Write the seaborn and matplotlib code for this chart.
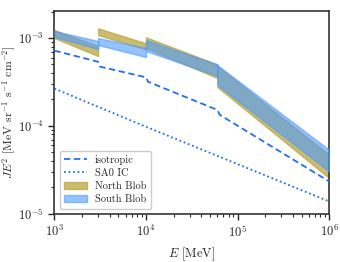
import numpy as np
import pandas as pd
import seaborn as sns
import matplotlib.pyplot as plt

# energies in MeV, values in log10(MeV sr^-1 s^-1 cm^-2)
iso_E = [1e3, 3e3, 3.15e3, 1e4, 1.05e4, 6e4, 6.4e4, 1e6]
iso_logJ = [-3.144, -3.27, -3.326, -3.447, -3.497, -3.818, -3.875, -4.633]

ic_E = [1e3, 1e4, 1e5, 1e6]
ic_logJ = [-3.575, -4.01, -4.435, -4.86]

# blob bands: per segment (E_lo, E_hi), lower/upper log10 at each end
seg_E = [(1e3, 3e3), (3e3, 1e4), (1e4, 6e4), (6e4, 1e6)]
north_lo = [(-3.0, -3.205), (-2.966, -3.128), (-3.114, -3.455), (-3.557, -4.594)]
north_hi = [(-2.909, -3.091), (-2.89, -3.06), (-2.992, -3.3), (-3.318, -4.33)]
south_lo = [(-2.989, -3.125), (-3.08, -3.216), (-3.148, -3.432), (-3.534, -4.519)]
south_hi = [(-2.92, -3.034), (-3.0, -3.114), (-3.023, -3.3), (-3.307, -4.273)]

blue = "#1f6ff2"
north_col = "#bca640"
south_col = "#4d9bff"


def main():
    sns.set_style("ticks")
    plt.rcParams["font.family"] = "serif"
    plt.rcParams["font.serif"] = ["cmr10", "DejaVu Serif"]
    plt.rcParams["mathtext.fontset"] = "cm"
    plt.rcParams["axes.formatter.use_mathtext"] = True
    plt.rcParams["axes.unicode_minus"] = False

    fig = plt.figure(figsize=(3.4, 2.62), dpi=100)
    ax = fig.add_axes([0.16, 0.184, 0.8085, 0.774])

    iso = pd.DataFrame({"E": iso_E, "J": 10 ** np.array(iso_logJ)})
    ic = pd.DataFrame({"E": ic_E, "J": 10 ** np.array(ic_logJ)})

    for i, (e0, e1) in enumerate(seg_E):
        lab_n = "North Blob" if i == 0 else None
        lab_s = "South Blob" if i == 0 else None
        ax.fill_between([e0, e1], 10 ** np.array(north_lo[i]), 10 ** np.array(north_hi[i]),
                        facecolor=north_col, edgecolor=north_col, alpha=0.75, lw=1.0,
                        label=lab_n, zorder=2)
        ax.fill_between([e0, e1], 10 ** np.array(south_lo[i]), 10 ** np.array(south_hi[i]),
                        facecolor=south_col, edgecolor=south_col, alpha=0.6, lw=1.0,
                        label=lab_s, zorder=3)

    sns.lineplot(data=iso, x="E", y="J", ax=ax, color=blue, lw=1.3,
                 linestyle=(0, (3.5, 2)), label="isotropic", zorder=4)
    sns.lineplot(data=ic, x="E", y="J", ax=ax, color=blue, lw=1.3,
                 linestyle=(0, (1, 1.5)), label="SA0 IC", zorder=4)

    ax.set_xscale("log")
    ax.set_yscale("log")
    ax.set_xlim(1e3, 1e6)
    ax.set_ylim(1e-5, 2.03e-3)
    ax.set_xlabel(r"$E$ [MeV]", fontsize=9)
    ax.set_ylabel(r"$JE^2$ [MeV sr$^{-1}$ s$^{-1}$ cm$^{-2}$]", fontsize=8.5, labelpad=0)
    ax.tick_params(which="major", labelsize=9, length=4, width=1, direction="out")
    ax.tick_params(which="minor", length=2.5, width=0.8, direction="out")
    for s in ax.spines.values():
        s.set_color("#333333")
        s.set_linewidth(1.2)

    h, l = ax.get_legend_handles_labels()
    order = [l.index(n) for n in ["isotropic", "SA0 IC", "North Blob", "South Blob"]]
    ax.legend([h[k] for k in order], [l[k] for k in order], loc="lower left",
              fontsize=7.5, frameon=True, framealpha=1, edgecolor="#cccccc",
              handlelength=2.2, borderpad=0.4, labelspacing=0.35)

    fig.savefig("out.png", dpi=100)


if __name__ == "__main__":
    main()
